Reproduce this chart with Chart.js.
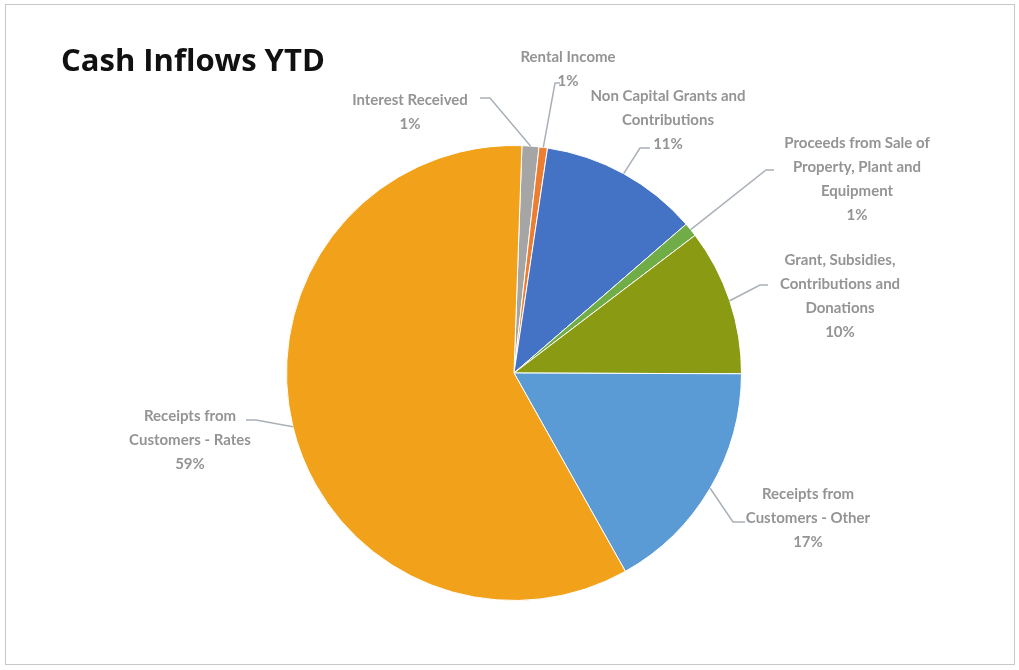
<!DOCTYPE html>
<html>
<head>
<meta charset="utf-8">
<script src="https://cdn.jsdelivr.net/npm/chart.js@4.4.0/dist/chart.umd.min.js"></script>
<style>
  html, body { margin: 0; padding: 0; background: #fff; }
  #wrap { position: relative; width: 1019px; height: 670px; }
  #frame { position: absolute; left: 5px; top: 4px; width: 1008px; height: 659px; border: 1px solid #c8c8c8; }
</style>
</head>
<body>
<div id="wrap">
  <div id="frame"></div>
  <canvas id="grafico" width="1019" height="670"></canvas>
</div>
<script>
// fatias (sentido horario a partir do topo)
const categorias = [
    ['Interest Received'],
    ['Rental Income'],
    ['Non Capital Grants and', 'Contributions'],
    ['Proceeds from Sale of', 'Property, Plant and', 'Equipment'],
    ['Grant, Subsidies,', 'Contributions and', 'Donations'],
    ['Receipts from', 'Customers - Other'],
    ['Receipts from', 'Customers - Rates']
]
const valores = [1.2, 0.6, 11.3, 1.0, 10.4, 16.8, 58.7]
const percentuais = ['1%', '1%', '11%', '1%', '10%', '17%', '59%']
const cores = ['#a5a5a5', '#ed7d31', '#4472c4', '#70ad47', '#8a9a12', '#5b9bd5', '#f2a11a']

// posicao dos rotulos relativa ao centro da pizza: [texto x, texto y, ponta x, ponta y, cotovelo x, cotovelo y]
const posRotulos = [
    [-104, -273, -34, -275, -24, -275],
    [54, -316, 46, -290, 41, -290],
    [154, -277, 136, -225, 126, -225],
    [343, -230, 260, -203, 252, -203],
    [326, -113, 254, -88, 246, -88],
    [294, 121, 231, 149, 219, 149],
    [-324, 43, -268, 47, -258, 47]
]

const rotulosPlugin = {
    id: 'rotulos',
    afterDraw(chart) {
        const ctx = chart.ctx
        const arcs = chart.getDatasetMeta(0).data
        ctx.save()
        // titulo
        ctx.fillStyle = '#111'
        ctx.font = 'bold 31px "Open Sans", Lato, sans-serif'
        ctx.textBaseline = 'alphabetic'
        ctx.textAlign = 'left'
        ctx.fillText('Cash Inflows YTD', 61, 71)

        ctx.font = 'bold 15px Lato, "Liberation Sans", sans-serif'
        ctx.textAlign = 'center'
        ctx.textBaseline = 'middle'
        arcs.forEach((arc, i) => {
            const p = arc.getProps(['x', 'y', 'startAngle', 'endAngle', 'outerRadius'], true)
            const meio = (p.startAngle + p.endAngle) / 2
            const ax = p.x + Math.cos(meio) * p.outerRadius
            const ay = p.y + Math.sin(meio) * p.outerRadius
            const pos = posRotulos[i]
            // linha guia
            ctx.strokeStyle = '#a9b0b8'
            ctx.lineWidth = 1.5
            ctx.beginPath()
            ctx.moveTo(ax, ay)
            ctx.lineTo(p.x + pos[4], p.y + pos[5])
            ctx.lineTo(p.x + pos[2], p.y + pos[3])
            ctx.stroke()
            // texto
            const linhas = categorias[i].concat([percentuais[i]])
            ctx.fillStyle = '#949494'
            linhas.forEach((t, k) => {
                ctx.fillText(t, p.x + pos[0], p.y + pos[1] + k * 24)
            })
        })
        ctx.restore()
    }
}

const ctx = document.getElementById('grafico').getContext('2d')
const chart = new Chart(ctx, {
    type: 'pie',
    data: {
        labels: categorias.map(c => c.join(' ')),
        datasets: [{
            data: valores,
            backgroundColor: cores,
            borderColor: '#ffffff',
            borderWidth: 1
        }]
    },
    options: {
        responsive: false,
        animation: false,
        rotation: 2,
        layout: {
            padding: { top: 145, bottom: 69, left: 286, right: 277 }
        },
        plugins: {
            legend: { display: false },
            tooltip: { enabled: false }
        }
    },
    plugins: [rotulosPlugin]
})
</script>
</body>
</html>
